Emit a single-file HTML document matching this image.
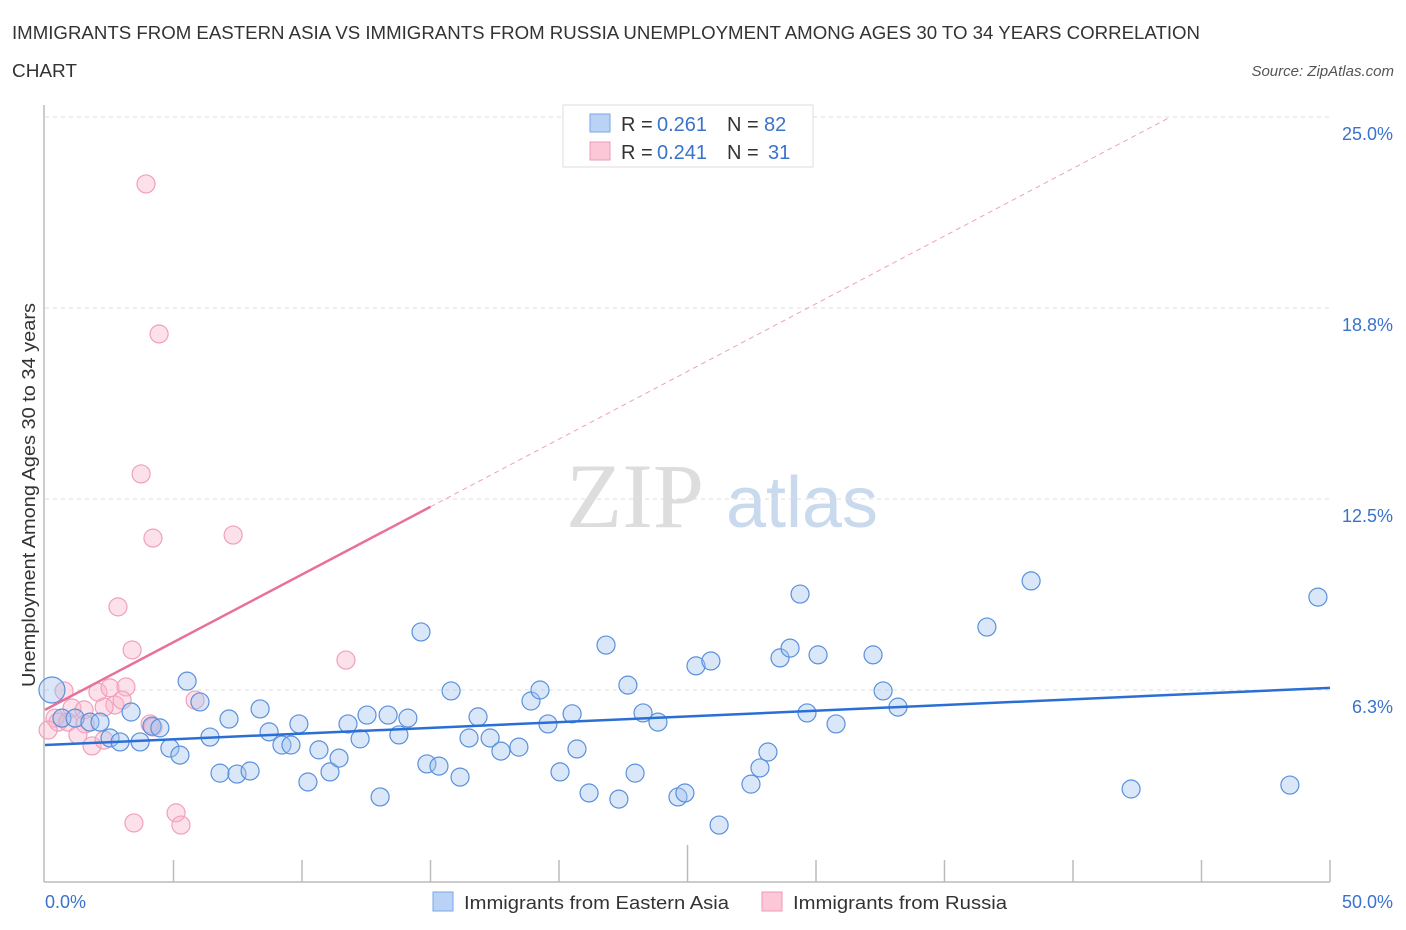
<!DOCTYPE html>
<html><head><meta charset="utf-8"><style>
body{margin:0;background:#fff;font-family:"Liberation Sans",sans-serif}
svg{display:block}
</style></head><body>
<svg id="chart" width="1406" height="930" xmlns="http://www.w3.org/2000/svg">
<text x="12" y="39" font-size="18" fill="#333" textLength="1188" lengthAdjust="spacingAndGlyphs">IMMIGRANTS FROM EASTERN ASIA VS IMMIGRANTS FROM RUSSIA UNEMPLOYMENT AMONG AGES 30 TO 34 YEARS CORRELATION</text>
<text x="12" y="77" font-size="18" fill="#333" textLength="65" lengthAdjust="spacingAndGlyphs">CHART</text>
<text x="1394" y="76" font-size="15" font-style="italic" fill="#555" text-anchor="end">Source: ZipAtlas.com</text>
<g>
<text x="635" y="527" font-size="92" font-family="Liberation Serif,serif" fill="#ddd" text-anchor="middle">ZIP</text>
<text x="802" y="527" font-size="72" fill="#c9d9ee" text-anchor="middle">atlas</text>
</g>
<g id="grid"></g>
<g id="axes"></g>
<g id="marks"></g>
<text transform="translate(35,495) rotate(-90)" font-size="18" fill="#333" text-anchor="middle" textLength="384" lengthAdjust="spacingAndGlyphs">Unemployment Among Ages 30 to 34 years</text>
<g>
<rect x="563" y="105" width="250" height="62" fill="#fff" stroke="#ddd"/>
<rect x="590" y="114" width="20" height="18" fill="#b9d2f5" stroke="#7aa6e6"/>
<rect x="590" y="142" width="20" height="18" fill="#fcc8d8" stroke="#ee9ab5"/>
<text x="621" y="131" font-size="20" fill="#333">R =</text>
<text x="657" y="131" font-size="20" fill="#3a72cc">0.261</text>
<text x="727" y="131" font-size="20" fill="#333">N =</text>
<text x="764" y="131" font-size="20" fill="#3a72cc">82</text>
<text x="621" y="159" font-size="20" fill="#333">R =</text>
<text x="657" y="159" font-size="20" fill="#3a72cc">0.241</text>
<text x="727" y="159" font-size="20" fill="#333">N =</text>
<text x="768" y="159" font-size="20" fill="#3a72cc">31</text>
</g>
<g>
<rect x="433" y="892" width="20" height="19" fill="#b9d2f5" stroke="#7aa6e6"/>
<text x="464" y="909" font-size="18" fill="#333" textLength="265" lengthAdjust="spacingAndGlyphs">Immigrants from Eastern Asia</text>
<rect x="762" y="892" width="20" height="19" fill="#fcc8d8" stroke="#ee9ab5"/>
<text x="793" y="909" font-size="18" fill="#333" textLength="214" lengthAdjust="spacingAndGlyphs">Immigrants from Russia</text>
</g>
</svg>
<script>
const yTicks=[25,18.75,12.5,6.25];
const yTickLabels=["25.0%","18.8%","12.5%","6.3%"];
const xTickLabels=["0.0%","50.0%"];
const blueX=[0.27,0.66,1.17,1.75,2.14,2.53,2.92,3.35,3.70,4.16,4.47,4.86,5.25,5.53,6.03,6.42,6.81,7.16,7.47,7.98,8.37,8.72,9.22,9.57,9.88,10.23,10.66,11.09,11.44,11.79,12.26,12.53,13.04,13.35,13.77,14.12,14.63,14.86,15.33,15.80,16.15,16.50,16.85,17.32,17.74,18.44,18.91,19.26,19.57,20.04,20.51,20.70,21.17,21.83,22.33,22.68,22.96,23.27,23.85,24.63,24.90,25.33,25.91,26.23,27.47,27.82,28.13,28.60,28.99,29.38,29.65,30.08,30.78,32.22,32.61,33.19,36.65,38.37,42.26,48.44,49.53];
const blueY=[6.25,5.33,5.33,5.20,5.20,4.68,4.55,5.53,4.55,5.07,5.01,4.35,4.12,6.54,5.86,4.71,3.53,5.30,3.50,3.60,5.63,4.88,4.45,4.45,5.14,3.24,4.29,3.57,4.02,5.14,4.65,5.43,2.75,5.43,4.78,5.33,8.15,3.83,3.76,6.22,3.40,4.68,5.37,4.68,4.25,4.38,5.89,6.25,5.14,3.57,5.47,4.32,2.88,7.72,2.68,6.41,3.53,5.50,5.20,2.75,2.88,7.04,7.20,1.83,3.17,3.70,4.22,7.30,7.62,9.39,5.50,7.40,5.14,7.40,6.22,5.69,8.31,9.82,3.01,3.14,9.29];
const pinkX=[3.93,4.44,3.74,4.20,7.32,2.84,3.39,11.71,0.74,2.06,2.53,3.15,5.84,2.72,3.00,2.30,1.05,1.52,0.39,0.51,0.89,1.56,4.09,4.20,0.12,1.28,1.83,2.30,5.10,5.29,3.46];
const pinkY=[22.81,17.90,13.32,11.22,11.32,8.97,7.56,7.23,6.22,6.18,6.32,6.35,5.92,5.76,5.92,5.69,5.66,5.60,5.33,5.20,5.20,5.14,5.14,5.04,4.94,4.78,4.42,4.61,2.23,1.83,1.90];
const blueTrend=[4.45,6.32];
const pinkTrend=[5.60,0.443];
const NS="http://www.w3.org/2000/svg";
const sx=v=>45+v*25.7, sy=v=>881-v*30.56;
function mk(tag,attrs,parent){const e=document.createElementNS(NS,tag);for(const k in attrs)e.setAttribute(k,attrs[k]);document.getElementById(parent).appendChild(e);return e;}
yTicks.forEach((t,i)=>{
 const l=mk('line',{x1:45,x2:1330,y1:sy(t),y2:sy(t),stroke:'#ddd','stroke-dasharray':'4,4'},'grid');
 
 
 const tx=mk('text',{x:1393,y:sy(t)+23,'font-size':18,fill:'#3a72cc','text-anchor':'end'},'axes');
 tx.textContent=yTickLabels[i];
 
 
});
const ya=mk('line',{x1:44,x2:44,y1:105,y2:882,stroke:'#bbb','stroke-width':1.5},'axes');


const xa=mk('line',{x1:44,x2:1330,y1:882,y2:882,stroke:'#bbb','stroke-width':1.5},'axes');


for(let v=5;v<=50;v+=5){
 const t=mk('line',{x1:sx(v),x2:sx(v),y1:882,y2:v===25?845:860,stroke:'#bbb','stroke-width':1.5},'axes');
 
 
}
const xl0=mk('text',{x:45,y:908,'font-size':18,fill:'#3a72cc'},'axes');xl0.textContent=xTickLabels[0];


const xl1=mk('text',{x:1393,y:908,'font-size':18,fill:'#3a72cc','text-anchor':'end'},'axes');xl1.textContent=xTickLabels[1];


pinkX.forEach((x,i)=>{
 const c=mk('circle',{cx:sx(x),cy:sy(pinkY[i]),r:9,fill:'rgba(249,180,202,0.4)',stroke:'#f0a0bb','stroke-width':1.2},'marks');
 
 
});
blueX.forEach((x,i)=>{
 const c=mk('circle',{cx:sx(x),cy:sy(blueY[i]),r:i===0?13:9,fill:'rgba(160,196,240,0.4)',stroke:'#5a90dc','stroke-width':1.2},'marks');
 
 
});
const bt=mk('line',{x1:sx(0),y1:sy(blueTrend[0]),x2:sx(50),y2:sy(blueTrend[1]),stroke:'#2a6fd6','stroke-width':2.5},'marks');


const pt=mk('line',{x1:sx(0),y1:sy(pinkTrend[0]),x2:sx(15),y2:sy(pinkTrend[0]+15*pinkTrend[1]),stroke:'#e8709a','stroke-width':2.5},'marks');


const xe=(25-pinkTrend[0])/pinkTrend[1];
const pd=mk('line',{x1:sx(15),y1:sy(pinkTrend[0]+15*pinkTrend[1]),x2:sx(xe),y2:sy(25),stroke:'#f0a0bb','stroke-width':1,'stroke-dasharray':'5,4'},'marks');


</script>
</body></html>
